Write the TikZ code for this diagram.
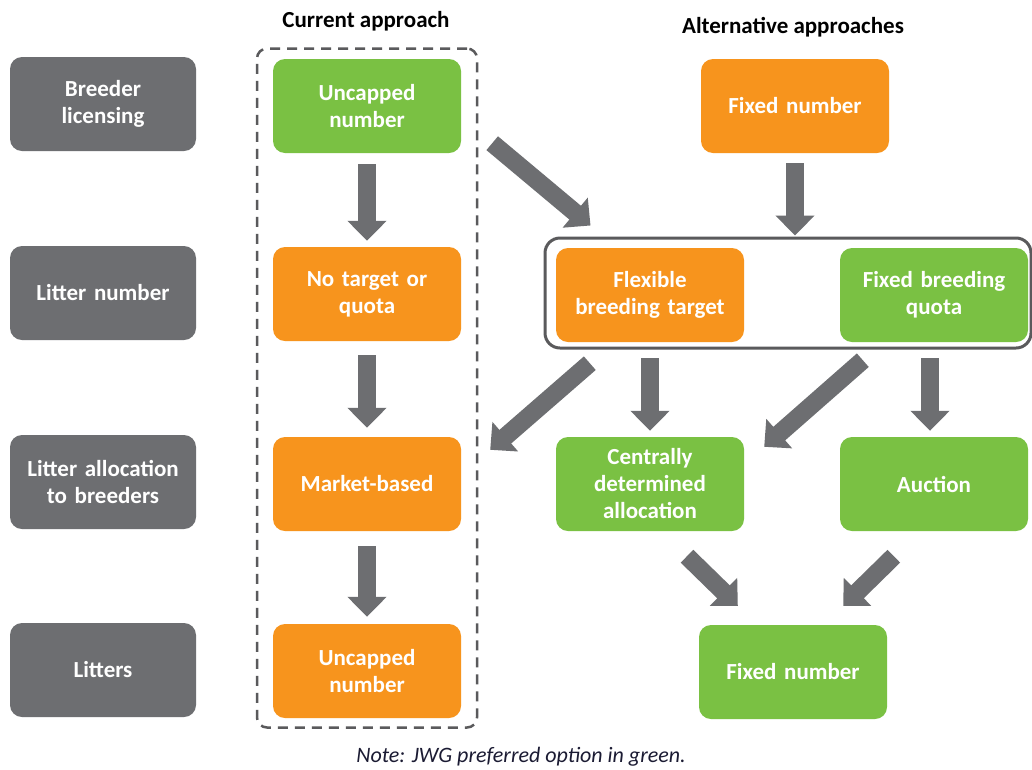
\documentclass[tikz,border=0pt]{standalone}
\usepackage{fontspec}
\setmainfont{Carlito}
\usetikzlibrary{positioning, arrows.meta}
\definecolor{boxgrey}{HTML}{6D6E71}
\definecolor{boxgreen}{HTML}{7AC143}
\definecolor{boxorange}{HTML}{F7941D}
\definecolor{arrgrey}{HTML}{6D6E71}
\definecolor{framegrey}{HTML}{5A5A5C}
\definecolor{notecol}{HTML}{1B1B33}

\begin{document}
\begin{tikzpicture}[x=1pt, y=-1pt,
	box/.style={rounded corners=12pt, minimum width=188pt, minimum height=94pt,
		text width=184pt, align=center, text=white, inner sep=0pt,
		font=\fontsize{23}{27}\selectfont\bfseries},
	rowlabel/.style={box, fill=boxgrey, minimum width=186pt},
	greenbox/.style={box, fill=boxgreen},
	orangebox/.style={box, fill=boxorange},
	heading/.style={font=\fontsize{23}{27}\selectfont\bfseries},
	bigarrow/.style={draw=arrgrey, line width=18pt,
		-{Triangle[length=20pt, width=38pt]}, shorten <=11pt, shorten >=6pt}
	]
	\fill[white] (0,0) rectangle (1032,769);
	\useasboundingbox (0,0) rectangle (1032,769);

	\node[heading] (curtitle) at (366,21) {Current approach};
	\node[heading] (alttitle) at (793,27) {Alternative approaches};

	\node[rowlabel] (lic) at (103,104) {Breeder\\licensing};
	\node[rowlabel] (num) at (103,293) {Litter number};
	\node[rowlabel] (alloc) at (103,482) {Litter allocation\\to breeders};
	\node[rowlabel] (lit) at (103,670) {Litters};

	\node[draw=framegrey, dashed, dash pattern=on 10pt off 7pt, line width=2.5pt,
		rounded corners=10pt, minimum width=220pt, minimum height=679pt] (cur) at (367,388) {};
	\node[greenbox] (u1) at (367,106) {Uncapped\\number};
	\node[orangebox] (nt) at (367,294) {No target or\\quota};
	\node[orangebox] (mb) at (367,484) {Market-based};
	\node[orangebox] (u2) at (367,671) {Uncapped\\number};

	\node[orangebox] (fx) at (795,106) {Fixed number};
	\node[draw=framegrey, line width=3pt, rounded corners=15pt,
		minimum width=486pt, minimum height=110pt] (grp) at (788,293) {};
	\node[orangebox] (flex) at (650,295) {Flexible\\breeding target};
	\node[greenbox] (fbq) at (934,295) {Fixed breeding\\quota};
	\node[greenbox] (cda) at (650,484) {Centrally\\determined\\allocation};
	\node[greenbox] (auc) at (934,484) {Auction};
	\node[greenbox] (fn) at (793,672) {Fixed number};

	\draw[bigarrow] (u1.south) -- (nt.north);
	\draw[bigarrow, shorten <=14pt, shorten >=9pt] (nt.south) -- (mb.north);
	\draw[bigarrow, shorten <=15pt, shorten >=7pt] (mb.south) -- (u2.north);
	\draw[bigarrow, shorten <=0pt, shorten >=0pt] ([shift={(31,-10)}]u1.south east) -- ([shift={(47,-11)}]grp.north west);
	\draw[bigarrow, shorten <=10pt, shorten >=1pt] (fx.south) -- (grp.north -| fx.south);
	\draw[bigarrow, shorten <=0pt, shorten >=0pt] ([shift={(34,21)}]flex.south west) -- ([shift={(29,13)}]mb.north east);
	\draw[bigarrow, shorten <=16pt, shorten >=6pt] (flex.south) -- (cda.north);
	\draw[bigarrow, shorten <=0pt, shorten >=0pt] ([shift={(23,18)}]fbq.south west) -- ([shift={(20,10)}]cda.north east);
	\draw[bigarrow, shorten <=16pt, shorten >=6pt] ([xshift=-4pt]fbq.south) -- ([xshift=-4pt]auc.north);
	\draw[bigarrow, shorten <=0pt, shorten >=0pt] ([shift={(37,25)}]cda.south) -- ([shift={(39,-19)}]fn.north west);
	\draw[bigarrow, shorten <=0pt, shorten >=0pt] ([shift={(54,25)}]auc.south west) -- ([shift={(-44,-19)}]fn.north east);

	\node[font=\fontsize{22}{26}\selectfont\itshape, text=notecol] (note) at (521,757) {Note: JWG preferred option in green.};
\end{tikzpicture}
\end{document}
